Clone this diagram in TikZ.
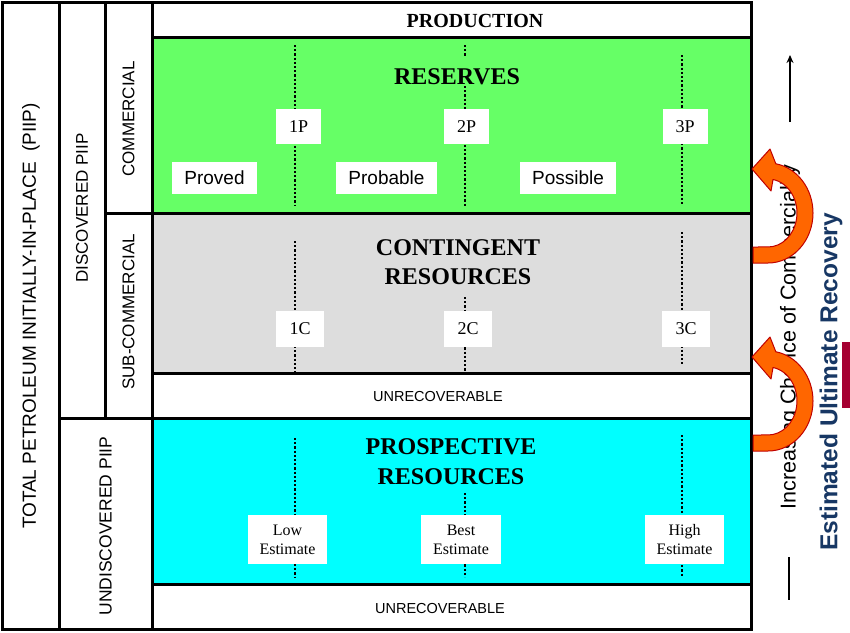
\documentclass[tikz,border=0pt]{standalone}
\usepackage{fontspec}
\setmainfont{Liberation Serif}
\setsansfont{Liberation Sans}
\usetikzlibrary{arrows.meta}
\definecolor{resgreen}{RGB}{102,255,102}
\definecolor{congray}{RGB}{221,221,221}
\definecolor{procyan}{RGB}{0,255,255}
\definecolor{uporange}{RGB}{255,102,0}
\definecolor{updark}{RGB}{192,0,0}
\definecolor{eurblue}{RGB}{23,55,100}
\definecolor{eurred}{RGB}{165,0,50}
\tikzset{
  frame/.style={line width=3pt, black},
  dotline/.style={line width=2.8pt, black, dash pattern=on 2.2pt off 2pt},
  whitebox/.style={fill=white, inner sep=0pt, align=center},
  serifbox/.style={whitebox, font=\fontsize{18}{20}\selectfont},
  sansbox/.style={whitebox, font=\sffamily\fontsize{19}{21}\selectfont},
  estbox/.style={whitebox, font=\fontsize{16}{19}\selectfont},
  bigtitle/.style={font=\bfseries\fontsize{24}{29.5}\selectfont, align=center, inner sep=0pt},
  sidelabel/.style={font=\sffamily\fontsize{17}{19}\selectfont, rotate=90, inner sep=0pt},
  unrec/.style={font=\sffamily\fontsize{14.5}{16}\selectfont, inner sep=0pt},
  uparrow/.style={fill=uporange, draw=updark, line width=1pt, line join=round},
}
\begin{document}
\begin{tikzpicture}[x=1pt, y={(0pt,-1pt)}]
\useasboundingbox (0,0) rectangle (850,632);
% coloured fields
\fill[resgreen] (152,37) rectangle (751,213);
\fill[congray] (152,213) rectangle (751,373);
\fill[procyan] (152,418) rectangle (751,584);
% frame
\draw[frame] (2,2) rectangle (751,629);
\draw[frame] (59,2) -- (59,629);
\draw[frame] (105,2) -- (105,418);
\draw[frame] (152,2) -- (152,629);
\draw[frame] (59,418) -- (751,418);
\draw[frame] (105,213) -- (751,213);
\draw[frame] (152,37) -- (751,37);
\draw[frame] (152,373) -- (751,373);
\draw[frame] (152,584) -- (751,584);
% left labels
\node[sidelabel, font=\sffamily\fontsize{19}{21}\selectfont] (tpiip) at (31,316) {TOTAL PETROLEUM INITIALLY-IN-PLACE\ \ (PIIP)};
\node[sidelabel] (dpiip) at (82,208) {DISCOVERED PIIP};
\node[sidelabel, font=\sffamily\fontsize{17.5}{19}\selectfont] (upiip) at (105.5,526) {UNDISCOVERED PIIP};
\node[sidelabel] (comm) at (128.5,119) {COMMERCIAL};
\node[sidelabel] (subcomm) at (128.5,312) {SUB-COMMERCIAL};
% production
\node[font=\bfseries\fontsize{20}{24}\selectfont, inner sep=0pt] (prod) at (475,21) {PRODUCTION};
% reserves
\draw[dotline] (295,45) -- (295,206);
\draw[dotline] (465,45) -- (465,57);
\draw[dotline] (465,86) -- (465,206);
\draw[dotline] (682,55) -- (682,206);
\node[bigtitle] (res) at (457,77) {RESERVES};
\node[serifbox, minimum width=45pt, minimum height=35pt] (p1) at (298.5,126.5) {1P};
\node[serifbox, minimum width=45pt, minimum height=35pt] (p2) at (466.5,126.5) {2P};
\node[serifbox, minimum width=45pt, minimum height=35pt] (p3) at (685,126.5) {3P};
\node[sansbox, minimum width=85pt, minimum height=32pt] (proved) at (214.5,178) {Proved};
\node[sansbox, minimum width=101pt, minimum height=32pt] (probable) at (386.5,178) {Probable};
\node[sansbox, minimum width=96pt, minimum height=32pt] (possible) at (568,178) {Possible};
% contingent
\draw[dotline] (295,241) -- (295,372);
\draw[dotline] (465,297) -- (465,372);
\draw[dotline] (682,232) -- (682,365);
\node[bigtitle] (con) at (458,262) {CONTINGENT\\RESOURCES};
\node[serifbox, minimum width=48pt, minimum height=36pt] (c1) at (300,329) {1C};
\node[serifbox, minimum width=48pt, minimum height=36pt] (c2) at (468,329) {2C};
\node[serifbox, minimum width=48pt, minimum height=36pt] (c3) at (686,329) {3C};
\node[unrec] (unrec1) at (438,396) {UNRECOVERABLE};
% prospective
\draw[dotline] (295,438) -- (295,577);
\draw[dotline] (465,493) -- (465,577);
\draw[dotline] (682,435) -- (682,577);
\node[bigtitle] (pros) at (451,461.5) {PROSPECTIVE\\RESOURCES};
\node[estbox, minimum width=79pt, minimum height=49pt] (low) at (287.5,539.5) {Low\\Estimate};
\node[estbox, minimum width=80pt, minimum height=49pt] (best) at (461,539.5) {Best\\Estimate};
\node[estbox, minimum width=79pt, minimum height=49pt] (high) at (684.5,539.5) {High\\Estimate};
\node[unrec] (unrec2) at (440,608) {UNRECOVERABLE};
% right side
\fill[eurred] (842,342) rectangle (850,408);
\node[rotate=90, inner sep=0pt, font=\sffamily\bfseries\fontsize{24.5}{28}\selectfont, text=eurblue] (eur) at (831,382) {Estimated Ultimate Recovery};
\node[rotate=90, inner sep=0pt, font=\sffamily\fontsize{21.5}{24}\selectfont] (chance) at (790,337) {Increasing Chance of Commerciality};
\coordinate (upa) at (790,122);
\coordinate (upb) at (790,55);
\coordinate (lowa) at (789,557);
\coordinate (lowb) at (789,600);
\draw[line width=1.8pt, -{Stealth[length=8pt, width=7pt]}] (upa) -- (upb);
\draw[line width=1.8pt] (lowa) -- (lowb);
% curved arrows
\foreach \dy in {0,188} {
  \begin{scope}[shift={(0,\dy)}]
    \draw[uparrow] (753,263) -- (768,263)
      arc[start angle=90, end angle=-80, x radius=45, y radius=50]
      -- (770,149) -- (752,169) -- (771,191) -- (773.0,179.5)
      arc[start angle=-80, end angle=90, x radius=29, y radius=34]
      -- (753,247) -- cycle;
  \end{scope}
}
\end{tikzpicture}
\end{document}
